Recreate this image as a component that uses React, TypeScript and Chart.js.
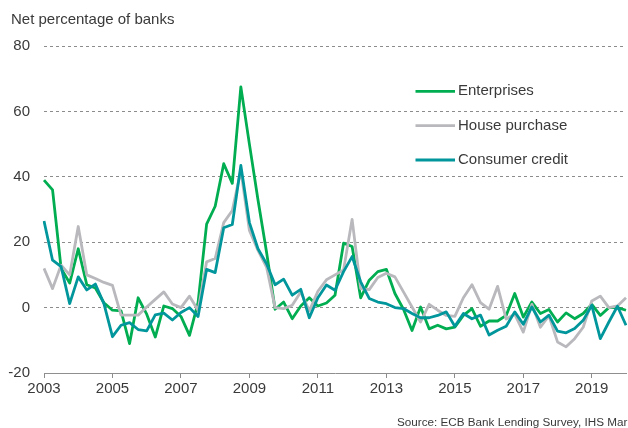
import React, { useEffect, useRef } from "react";
import { Chart, registerables } from "chart.js";

Chart.register(...registerables);

const quarters = [
  "2003Q1", "2003Q2", "2003Q3", "2003Q4", "2004Q1", "2004Q2", "2004Q3", "2004Q4",
  "2005Q1", "2005Q2", "2005Q3", "2005Q4", "2006Q1", "2006Q2", "2006Q3", "2006Q4",
  "2007Q1", "2007Q2", "2007Q3", "2007Q4", "2008Q1", "2008Q2", "2008Q3", "2008Q4",
  "2009Q1", "2009Q2", "2009Q3", "2009Q4", "2010Q1", "2010Q2", "2010Q3", "2010Q4",
  "2011Q1", "2011Q2", "2011Q3", "2011Q4", "2012Q1", "2012Q2", "2012Q3", "2012Q4",
  "2013Q1", "2013Q2", "2013Q3", "2013Q4", "2014Q1", "2014Q2", "2014Q3", "2014Q4",
  "2015Q1", "2015Q2", "2015Q3", "2015Q4", "2016Q1", "2016Q2", "2016Q3", "2016Q4",
  "2017Q1", "2017Q2", "2017Q3", "2017Q4", "2018Q1", "2018Q2", "2018Q3", "2018Q4",
  "2019Q1", "2019Q2", "2019Q3", "2019Q4", "2020Q1",
];

const tickYears = ["2003", "2005", "2007", "2009", "2011", "2013", "2015", "2017", "2019"];

const enterprises = [
  39, 36, 12, 7.5, 18, 7, 6, 1.5,
  -0.8, -1, -11, 3, -2, -9, 0.5, -0.3,
  -2.7, -8.5, 1.5, 25.5, 31, 44, 38, 67.5,
  50, 33, 17, -0.5, 1.7, -3.4, 0.5, 3,
  0.5, 1.4, 3.8, 19.7, 18.7, 3, 8.4, 11,
  11.7, 4.3, -0.5, -7, 0.2, -6.5, -5.4, -6.5,
  -6, -2.4, -0.3, -5.7, -4.1, -4.1, -2.4, 4.3,
  -2.9, 1.7, -1.8, -0.6, -4.4, -1.6, -3.4, -1.8,
  1, -2.4, 0, 0, -0.8,
];

const housePurchase = [
  12, 5.8, 13, 10, 24.8, 10, 8.9, 7.7,
  6.8, -2.3, -2.3, -2.3, 0.2, 2.5, 4.8, 1.1,
  0, 3.5, -0.8, 14, 15, 26, 29.7, 42,
  23.6, 17.5, 12.4, 0, -0.3, 0.7, 4.8, -1,
  5, 8.5, 10, 11.5, 27, 5.8, 5.5, 9.2,
  10.5, 9.4, 4.8, 0.2, -4.4, 1, -0.8, -2.4,
  -2.7, 3, 7, 1.5, -0.5, 6.5, -3.5, -2,
  -7.5, 1, -6, -2.5, -10.5, -12, -9.5, -6,
  2, 3.5, 0, 0.5, 3,
];

const consumerCredit = [
  26.5, 14.5, 12.5, 1.2, 9.4, 5.4, 7.2, 1.2,
  -8.9, -5.4, -4.6, -6.7, -7.1, -2.2, -1.7, -3.8,
  -1.5, 0, -2.7, 11.7, 10.7, 24.4, 25.4, 43.5,
  26, 18, 13.4, 7, 8.7, 3.8, 5.6, -3.1,
  3, 6.9, 5.3, 11, 15.6, 7.9, 2.8, 1.7,
  1.2, 0, -0.3, -1.8, -3.1, -3.1, -2.4, -1.3,
  -5.7, -1.8, -3.4, -2.3, -8.4, -6.9, -5.7, -1.3,
  -5.1, 0.2, -4.4, -2.3, -7.2, -7.7, -6.4, -3.9,
  0.7, -9.5, -4.4, 0.4, -5.4,
];

const seriesNames = ["Enterprises", "House purchase", "Consumer credit"];
const seriesColors = ["#00ad50", "#b9b9bd", "#00969b"];
const yMin = -20;
const yMax = 80;
const yStep = 20;
const titleText = "Net percentage of banks";
const sourceText = "Source: ECB Bank Lending Survey, IHS Markit";

const FONT = '"Liberation Sans", Arial, sans-serif';
const TEXT = "#3a3a3a";
const GRID = "#8c8c8c";

const isLabeled = (i: number) => {
  const q = quarters[i];
  if (!q) return false;
  return q.endsWith("Q1") && tickYears.includes(q.slice(0, 4));
};

const overlayPlugin = {
  id: "overlay",
  afterDraw(chart: any) {
    const ctx = chart.ctx as CanvasRenderingContext2D;
    ctx.save();
    ctx.fillStyle = TEXT;
    ctx.textAlign = "left";
    ctx.textBaseline = "alphabetic";
    ctx.font = `15px ${FONT}`;
    ctx.fillText(titleText, 11, 24);

    const rows = [91.3, 125.7, 160];
    seriesNames.forEach((name, i) => {
      const y = rows[i];
      ctx.strokeStyle = seriesColors[i];
      ctx.lineWidth = 2.8;
      ctx.beginPath();
      ctx.moveTo(415.5, y);
      ctx.lineTo(455, y);
      ctx.stroke();
      ctx.fillStyle = TEXT;
      ctx.textBaseline = "middle";
      ctx.font = `15px ${FONT}`;
      ctx.fillText(name, 458, y);
    });

    ctx.textBaseline = "alphabetic";
    ctx.font = `11.7px ${FONT}`;
    ctx.fillStyle = TEXT;
    ctx.fillText(sourceText, 397, 425.5);
    ctx.restore();
  },
};

export default function App() {
  const canvasRef = useRef<HTMLCanvasElement | null>(null);

  useEffect(() => {
    if (!canvasRef.current) return;
    const datasets = [
      { label: seriesNames[2], data: consumerCredit, color: seriesColors[2], order: 0 },
      { label: seriesNames[1], data: housePurchase, color: seriesColors[1], order: 1 },
      { label: seriesNames[0], data: enterprises, color: seriesColors[0], order: 2 },
    ].map((d) => ({
      label: d.label,
      data: d.data,
      borderColor: d.color,
      backgroundColor: d.color,
      borderWidth: 2.8,
      pointRadius: 0,
      pointHoverRadius: 0,
      tension: 0,
      fill: false,
      order: d.order,
      borderJoinStyle: "round" as const,
    }));

    const chart = new Chart(canvasRef.current, {
      type: "line",
      data: { labels: quarters, datasets },
      options: {
        animation: false,
        responsive: false,
        devicePixelRatio: 1,
        layout: { padding: { top: 46, right: 1, bottom: 0, left: 0 } },
        plugins: {
          legend: { display: false },
          tooltip: { enabled: false },
          title: { display: false },
        },
        scales: {
          x: {
            type: "category",
            offset: false,
            afterFit: (scale: any) => {
              scale.height = 55;
            },
            grid: {
              display: true,
              drawOnChartArea: false,
              drawTicks: true,
              tickLength: 5,
              tickColor: (ctx: any) => (isLabeled(ctx.index) ? GRID : "rgba(0,0,0,0)"),
              color: "rgba(0,0,0,0)",
            },
            border: { display: true, color: "#8f8f8f", width: 1 },
            ticks: {
              autoSkip: false,
              maxRotation: 0,
              minRotation: 0,
              padding: 2,
              color: TEXT,
              font: { family: FONT, size: 15 },
              callback: (_v: any, i: number) => (isLabeled(i) ? quarters[i].slice(0, 4) : ""),
            },
          },
          y: {
            min: yMin,
            max: yMax,
            afterFit: (scale: any) => {
              scale.width = 44;
            },
            grid: {
              drawTicks: false,
              lineWidth: 1,
              color: (ctx: any) => (ctx.tick && ctx.tick.value === yMin ? "rgba(0,0,0,0)" : GRID),
            },
            border: { display: false, dash: [3, 3] },
            ticks: {
              stepSize: yStep,
              padding: 14,
              color: TEXT,
              font: { family: FONT, size: 15 },
            },
          },
        },
      },
      plugins: [overlayPlugin],
    });

    return () => {
      chart.destroy();
    };
  }, []);

  return (
    <div style={{ position: "absolute", left: 0, top: 0, width: 628, height: 428, background: "#fff" }}>
      <canvas ref={canvasRef} width={628} height={428} style={{ display: "block" }} />
    </div>
  );
}
